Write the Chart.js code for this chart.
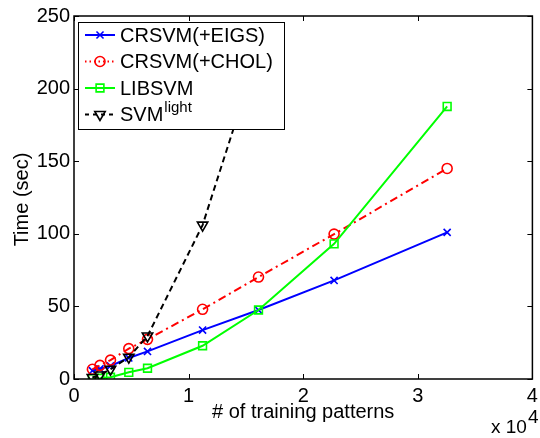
<!DOCTYPE html>
<html>
<head>
<meta charset="utf-8">
<script src="https://cdn.jsdelivr.net/npm/chart.js@4.4.1/dist/chart.umd.min.js"></script>
<style>
  html, body { margin: 0; padding: 0; background: #fff; }
  canvas { display: block; }
</style>
</head>
<body>
<canvas id="c" width="540" height="438"></canvas>
<script>
// Training set sizes (Adult a1a..a9a) and training times in seconds
const trainingSizes = [1605, 2265, 3185, 4781, 6414, 11220, 16100, 22696, 32561];
const crsvmEigs = [5.7, 7.0, 9.0, 14.5, 19.0, 33.7, 47.5, 67.9, 101.0];
const crsvmChol = [6.7, 9.4, 13.0, 20.9, 27.3, 48.0, 70.2, 99.8, 145.0];
const libsvm    = [0.3, 0.5, 1.2, 4.6, 7.4, 22.9, 47.5, 93.1, 187.7];
const svmLight  = [1.0, 2.8, 6.7, 15.0, 29.6, 106.0, 226.0];

const seriesNames = ['CRSVM(+EIGS)', 'CRSVM(+CHOL)', 'LIBSVM', 'SVM'];
const xTicks = [0, 1, 2, 3, 4];          // in units of 10^4
const yTicks = [0, 50, 100, 150, 200, 250];
const xLabel = '# of training patterns';
const yLabel = 'Time (sec)';

const FONT = "'Liberation Sans', Arial, Helvetica, sans-serif";

function pts(values) {
  return values.map((v, i) => ({ x: trainingSizes[i], y: v }));
}

const styles = [
  { color: '#0000ff', dash: [], marker: 'crossRot', radius: 5, rot: 0 },
  { color: '#ff0000', dash: [8, 4, 2, 4], marker: 'circle', radius: 5, rot: 0 },
  { color: '#00ff00', dash: [], marker: 'rect', radius: 5.5, rot: 0 },
  { color: '#000000', dash: [6, 4], marker: 'triangle', radius: 6, rot: 180 }
];
const seriesValues = [crsvmEigs, crsvmChol, libsvm, svmLight];

const datasets = seriesValues.map((vals, i) => ({
  label: seriesNames[i],
  data: pts(vals),
  borderColor: styles[i].color,
  backgroundColor: 'transparent',
  borderWidth: 2,
  borderDash: styles[i].dash,
  tension: 0,
  pointStyle: styles[i].marker,
  pointRadius: styles[i].radius,
  pointRotation: styles[i].rot,
  pointBorderWidth: 1.6,
  pointBorderColor: styles[i].color,
  pointBackgroundColor: 'transparent',
  order: 3 - i
}));

// Legend marker drawn the same way as the plotted markers
function drawMarker(ctx, style, x, y) {
  ctx.save();
  ctx.setLineDash([]);
  ctx.strokeStyle = style.color;
  ctx.lineWidth = 1.6;
  ctx.beginPath();
  const r = style.radius;
  if (style.marker === 'crossRot') {
    const o = r * Math.SQRT1_2;
    ctx.moveTo(x - o, y - o); ctx.lineTo(x + o, y + o);
    ctx.moveTo(x - o, y + o); ctx.lineTo(x + o, y - o);
  } else if (style.marker === 'circle') {
    ctx.arc(x, y, r, 0, Math.PI * 2);
  } else if (style.marker === 'rect') {
    const s = r * Math.SQRT1_2;
    ctx.rect(x - s, y - s, 2 * s, 2 * s);
  } else if (style.marker === 'triangle') {
    for (let k = 0; k < 3; k++) {
      const a = Math.PI + k * 2 * Math.PI / 3;
      const px = x + Math.sin(a) * r, py = y - Math.cos(a) * r;
      if (k === 0) ctx.moveTo(px, py); else ctx.lineTo(px, py);
    }
    ctx.closePath();
  }
  ctx.stroke();
  ctx.restore();
}

const framePlugin = {
  id: 'framePlugin',
  afterDatasetsDraw(chart) {
    const { ctx, chartArea: a, scales } = chart;
    ctx.save();
    // axes box
    ctx.strokeStyle = '#000';
    ctx.lineWidth = 1.5;
    ctx.setLineDash([]);
    ctx.strokeRect(a.left, a.top, a.right - a.left, a.bottom - a.top);
    // inward tick marks on all four sides
    const tl = 5;
    ctx.lineWidth = 1;
    ctx.beginPath();
    scales.x.ticks.forEach(t => {
      const px = Math.round(scales.x.getPixelForValue(t.value)) + 0.5;
      ctx.moveTo(px, a.bottom); ctx.lineTo(px, a.bottom - tl);
      ctx.moveTo(px, a.top); ctx.lineTo(px, a.top + tl);
    });
    scales.y.ticks.forEach(t => {
      const py = Math.round(scales.y.getPixelForValue(t.value)) + 0.5;
      ctx.moveTo(a.left, py); ctx.lineTo(a.left + tl, py);
      ctx.moveTo(a.right, py); ctx.lineTo(a.right - tl, py);
    });
    ctx.stroke();

    // legend box
    const lx = 78, ly = 22, lw = 206, lh = 107;
    ctx.fillStyle = '#fff';
    ctx.fillRect(lx, ly, lw, lh);
    ctx.lineWidth = 1;
    ctx.strokeStyle = '#000';
    ctx.strokeRect(lx + 0.5, ly + 0.5, lw, lh);
    const rows = [35, 61.5, 88, 114.5];
    ctx.font = '20px ' + FONT;
    ctx.textBaseline = 'middle';
    ctx.textAlign = 'left';
    styles.forEach((s, i) => {
      const y = rows[i];
      ctx.save();
      ctx.strokeStyle = s.color;
      ctx.lineWidth = 2;
      ctx.setLineDash(s.dash.length ? [4, 4] : []);
      if (i === 1) ctx.setLineDash([1.5, 3]);
      ctx.beginPath();
      ctx.moveTo(85, y); ctx.lineTo(115, y);
      ctx.stroke();
      ctx.restore();
      drawMarker(ctx, s, 100, y);
      ctx.fillStyle = '#000';
      ctx.fillText(seriesNames[i], 120, y + 1);
    });
    // superscript for SVM^light
    const w = ctx.measureText(seriesNames[3]).width;
    ctx.font = '15px ' + FONT;
    ctx.textBaseline = 'alphabetic';
    ctx.fillText('light', 120 + w + 1, 112);

    // axis titles
    ctx.font = '20px ' + FONT;
    ctx.fillStyle = '#000';
    ctx.textAlign = 'center';
    ctx.textBaseline = 'alphabetic';
    ctx.fillText(xLabel, (a.left + a.right) / 2, 418);
    ctx.save();
    ctx.translate(28, (a.top + a.bottom) / 2 + 2);
    ctx.rotate(-Math.PI / 2);
    ctx.textBaseline = 'alphabetic';
    ctx.fillText(yLabel, 0, 0);
    ctx.restore();

    // x-axis scale factor
    ctx.font = '19px ' + FONT;
    ctx.textAlign = 'left';
    ctx.fillText('x 10', 491, 433);
    const w2 = ctx.measureText('x 10').width;
    ctx.fillText('4', 491 + w2 + 1, 423);
    ctx.restore();
  }
};

new Chart(document.getElementById('c'), {
  type: 'line',
  data: { datasets },
  options: {
    responsive: false,
    animation: false,
    devicePixelRatio: 1,
    layout: { padding: { top: 16, right: 2, left: 0, bottom: 0 } },
    plugins: { legend: { display: false }, tooltip: { enabled: false } },
    scales: {
      x: {
        type: 'linear',
        min: 0,
        max: 40000,
        afterBuildTicks: s => { s.ticks = xTicks.map(v => ({ value: v * 10000 })); },
        afterFit: s => { s.height = 59; s.paddingLeft = 0; s.paddingRight = 0; },
        ticks: {
          callback: v => String(v / 10000),
          font: { family: FONT, size: 20 },
          color: '#000',
          padding: 5,
          maxRotation: 0,
          autoSkip: false
        },
        grid: { display: false, drawTicks: false },
        border: { display: false }
      },
      y: {
        type: 'linear',
        min: 0,
        max: 250,
        afterBuildTicks: s => { s.ticks = yTicks.map(v => ({ value: v })); },
        afterFit: s => { s.width = 74; s.paddingTop = 0; s.paddingBottom = 0; },
        ticks: {
          font: { family: FONT, size: 20 },
          color: '#000',
          padding: 4,
          autoSkip: false
        },
        grid: { display: false, drawTicks: false },
        border: { display: false }
      }
    }
  },
  plugins: [framePlugin]
});
</script>
</body>
</html>
